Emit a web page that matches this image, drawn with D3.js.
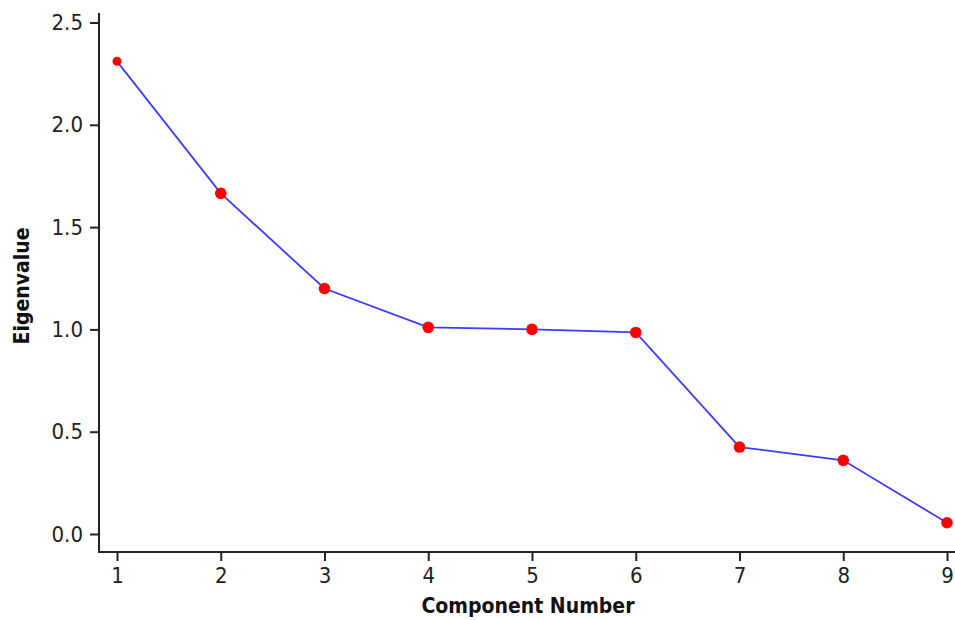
<!DOCTYPE html>
<html>
<head>
<meta charset="utf-8">
<script src="https://cdn.jsdelivr.net/npm/d3@7"></script>
<style>
  html, body { margin: 0; padding: 0; background: #fff; }
  svg { display: block; }
  .tick text { font-family: "DejaVu Sans Condensed", "DejaVu Sans", Verdana, sans-serif; font-size: 22px; fill: #222; }
  .axis-title { font-family: "DejaVu Sans Condensed", "DejaVu Sans", Verdana, sans-serif; font-weight: bold; font-size: 21px; fill: #111; }
</style>
</head>
<body>
<svg id="chart" width="955" height="620"></svg>
<script>
// Scree plot: eigenvalue of each principal component
const components = [1, 2, 3, 4, 5, 6, 7, 8, 9];
const eigenvalues = [2.31, 1.665, 1.20, 1.01, 1.00, 0.985, 0.425, 0.36, 0.055];
const yTicks = [0.0, 0.5, 1.0, 1.5, 2.0, 2.5];

const svg = d3.select("#chart");
const width = 955, height = 620;

const x = d3.scaleLinear().domain([1, 9]).range([117, 947]);
const y = d3.scaleLinear().domain([0, 2.5]).range([534, 22.5]);

const axisX = 99, axisY = 552;

// y axis
const gy = svg.append("g").attr("transform", `translate(${axisX},0)`)
  .call(d3.axisLeft(y).tickValues(yTicks).tickFormat(d3.format(".1f")).tickSize(9).tickPadding(7));
gy.select(".domain").remove();
gy.selectAll(".tick line").attr("stroke", "#222").attr("stroke-width", 2);
svg.append("line").attr("x1", axisX).attr("x2", axisX).attr("y1", 13).attr("y2", axisY + 1)
  .attr("stroke", "#222").attr("stroke-width", 2);

// x axis
const gx = svg.append("g").attr("transform", `translate(0,${axisY})`)
  .call(d3.axisBottom(x).tickValues(components).tickFormat(d3.format("d")).tickSize(9).tickPadding(6));
gx.select(".domain").remove();
gx.selectAll(".tick line").attr("stroke", "#222").attr("stroke-width", 2);
svg.append("line").attr("x1", axisX - 1).attr("x2", width).attr("y1", axisY).attr("y2", axisY)
  .attr("stroke", "#222").attr("stroke-width", 2);

// axis titles
svg.append("text").attr("class", "axis-title")
  .attr("x", 528).attr("y", 613)
  .attr("text-anchor", "middle")
  .text("Component Number");
svg.append("text").attr("class", "axis-title")
  .attr("transform", `translate(29,286) rotate(-90)`)
  .attr("text-anchor", "middle")
  .text("Eigenvalue");

// line and markers
const pts = components.map((c, i) => ({ c, v: eigenvalues[i] }));
svg.append("path").datum(pts)
  .attr("fill", "none").attr("stroke", "#3c3cff").attr("stroke-width", 1.8)
  .attr("d", d3.line().x(d => x(d.c)).y(d => y(d.v)));

svg.selectAll("circle.pt").data(pts).enter().append("circle")
  .attr("class", "pt")
  .attr("cx", d => x(d.c)).attr("cy", d => y(d.v))
  .attr("r", (d, i) => i === 0 ? 4.5 : 5.8)
  .attr("fill", "#ff0000");
</script>
</body>
</html>
